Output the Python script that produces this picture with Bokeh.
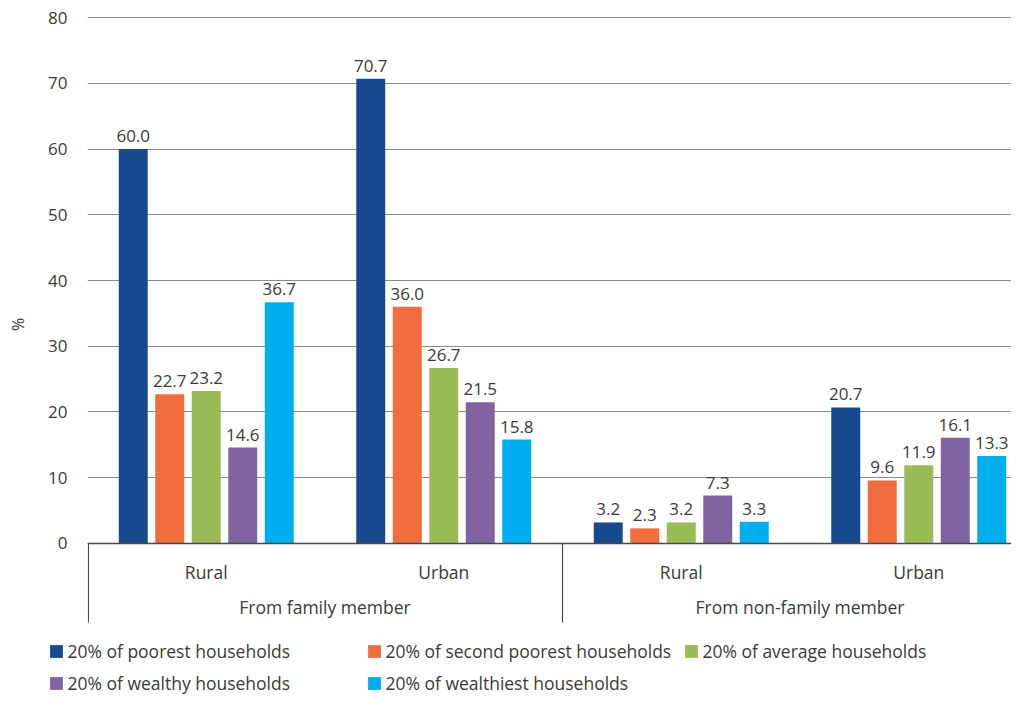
import numpy as np
from bokeh.plotting import figure
from bokeh.models import ColumnDataSource, Range1d, FixedTicker, Legend, LegendItem
from bokeh.core.properties import value
from bokeh.embed import file_html
from bokeh.resources import INLINE

# ---- data ----
groups = ["From family member", "From non-family member"]
locations = ["Rural", "Urban"]
series = [
    "20% of poorest households",
    "20% of second poorest households",
    "20% of average households",
    "20% of wealthy households",
    "20% of wealthiest households",
]
poorest = [60.0, 70.7, 3.2, 20.7]
second_poorest = [22.7, 36.0, 2.3, 9.6]
average = [23.2, 26.7, 3.2, 11.9]
wealthy = [14.6, 21.5, 7.3, 16.1]
wealthiest = [36.7, 15.8, 3.3, 13.3]
y_ticks = [0, 10, 20, 30, 40, 50, 60, 70, 80]
y_title = "%"

# ---- style ----
colors = ["#174A8C", "#F26D3D", "#9BBB59", "#8064A2", "#00AEEF"]
TXT = "#3a3a3a"
LINE = "#4a4a4a"
FONT = "Open Sans"
values = [poorest, second_poorest, average, wealthy, wealthiest]

cats = [(g, l) for g in groups for l in locations]
centers = np.arange(len(cats)) + 0.5
step = 0.1537
bar_w = 0.122

p = figure(width=1011, height=640, output_backend="svg", toolbar_location=None,
           x_range=Range1d(0, 3.8905), y_range=Range1d(-14.753, 81.369),
           min_border_left=87, min_border_right=0, min_border_top=8, min_border_bottom=0)
p.outline_line_color = None
p.xaxis.visible = False
p.xgrid.visible = False
p.ygrid.ticker = FixedTicker(ticks=y_ticks)
p.ygrid.grid_line_color = "#8a8a8a"
p.ygrid.grid_line_width = 1
p.yaxis.ticker = FixedTicker(ticks=y_ticks)
p.yaxis.axis_line_color = None
p.yaxis.major_tick_line_color = None
p.yaxis.minor_tick_line_color = None
p.yaxis.major_label_standoff = 14
p.yaxis.major_label_text_font = FONT
p.yaxis.major_label_text_font_size = "17px"
p.yaxis.major_label_text_color = TXT
p.yaxis.axis_label = y_title
p.yaxis.axis_label_standoff = 16
p.yaxis.axis_label_text_font = FONT
p.yaxis.axis_label_text_font_style = "normal"
p.yaxis.axis_label_text_font_size = "16px"
p.yaxis.axis_label_text_color = TXT

for k, (name, vals) in enumerate(zip(series, values)):
    xs = centers + (k - 2) * step
    src = ColumnDataSource(dict(x=xs, top=vals, lab=[f"{v:.1f}" for v in vals]))
    p.vbar(x="x", top="top", width=bar_w, bottom=0, source=src,
           fill_color=colors[k], line_color=None)
    p.text(x="x", y="top", text="lab", source=src, text_align="center",
           text_baseline="bottom", y_offset=-7, text_font=value(FONT),
           text_font_size="17px", text_color=TXT)

# bottom category axis drawn in the frame
ymin_sep = -12.0
p.segment(x0=[0], y0=[0], x1=[len(cats)], y1=[0], line_color=LINE, line_width=1.5)
sep_x = [0.004, len(locations)]
p.segment(x0=sep_x, y0=[0] * len(sep_x), x1=sep_x, y1=[ymin_sep] * len(sep_x),
          line_color=LINE, line_width=1.2)
p.text(x=centers, y=[-4.4] * len(cats), text=[c[1] for c in cats], text_align="center",
       text_baseline="middle", text_font=value(FONT), text_font_size="17.5px", text_color=TXT)
gcenters = [np.mean(centers[i * len(locations):(i + 1) * len(locations)]) for i in range(len(groups))]
p.text(x=gcenters, y=[-9.7] * len(groups), text=groups, text_align="center",
       text_baseline="middle", text_font=value(FONT), text_font_size="17.5px", text_color=TXT)

# ---- legend strip (separate root, so its frame starts at the left edge) ----
pl = figure(width=1011, height=55, output_backend="svg", toolbar_location=None,
            x_range=Range1d(0, 1), y_range=Range1d(0, 1),
            x_axis_location=None, y_axis_location=None, min_border=0)
pl.outline_line_color = None
pl.grid.visible = False
leg_r = []
for k in range(len(series)):
    # swatch renderers kept outside the visible range; only their legend glyph shows
    leg_r.append(pl.vbar(x=[5], top=[0], width=0.1, fill_color=colors[k], line_color=None))

columns = [[0, 3], [1, 4], [2]]
col_x = [48.4, 366.4, 683.4]
for cx, idxs in zip(col_x, columns):
    items = [LegendItem(label=series[i], renderers=[leg_r[i]]) for i in idxs]
    vy = 0 if len(idxs) == 2 else 32
    leg = Legend(items=items, location=(cx, vy), orientation="vertical",
                 glyph_width=16, glyph_height=16, label_standoff=3, spacing=8,
                 padding=0, margin=0, border_line_alpha=0, background_fill_alpha=0,
                 label_text_font=FONT, label_text_font_size="17.5px", label_height=18,
                 label_text_color=TXT, label_text_baseline="middle")
    pl.add_layout(leg)

open("out.html", "w").write(file_html([p, pl], INLINE))
